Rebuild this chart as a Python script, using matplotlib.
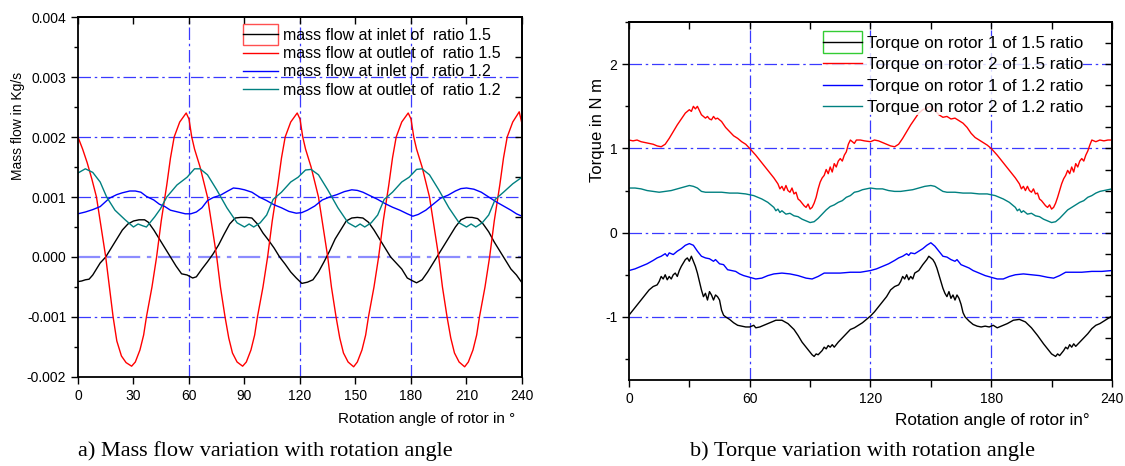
import matplotlib
matplotlib.use("Agg")
import numpy as np
import matplotlib.pyplot as plt
from matplotlib.ticker import MultipleLocator, FixedLocator, NullFormatter, FormatStrFormatter
from matplotlib.legend_handler import HandlerLine2D
from matplotlib.patches import Rectangle

plt.rcParams['font.family'] = ['Liberation Sans', 'DejaVu Sans']
plt.rcParams['axes.unicode_minus'] = False

# ---------------- a) mass flow (kg/s) vs rotation angle ----------------
ang_out15 = [0, 2.5, 5, 7.5, 10, 12.5, 15, 17, 19, 21, 23.5, 26, 29, 31, 33.5, 35.5, 37, 40, 42.5, 45, 48, 50, 52, 55, 58.5,
             60, 61.5, 63, 66, 68, 70, 72.5, 75, 77, 79.5, 81.5, 83.5, 86, 89, 91, 93.5, 95.5, 97, 100, 102.5, 105, 108, 110, 112, 115, 118.5,
             120, 121.5, 123, 126, 128, 130, 132.5, 135, 137, 139.5, 141.5, 143.5, 146, 149, 151, 153.5, 155.5, 157, 160, 162.5, 165, 168, 170, 172, 175, 178.5,
             180, 181.5, 183, 186, 188, 190, 192.5, 195, 197, 199.5, 201.5, 203.5, 206, 209, 211, 213.5, 215.5, 217, 220, 222.5, 225, 228, 230, 232, 235, 238.5, 240]
mf_out15 = [.00200, .00180, .00157, .00130, .00100, .00050, .00000, -.00050, -.00100, -.00140, -.00165, -.00176, -.00182, -.00175, -.00155, -.00130, -.00100, -.00050, .00000, .00060, .00120, .00165, .00200, .00225, .00240,
            .00230, .00200, .00180, .00150, .00125, .00100, .00050, .00000, -.00050, -.00100, -.00135, -.00160, -.00175, -.00182, -.00175, -.00155, -.00130, -.00100, -.00050, .00000, .00060, .00120, .00165, .00200, .00225, .00240,
            .00230, .00200, .00180, .00150, .00125, .00100, .00050, .00000, -.00050, -.00100, -.00135, -.00160, -.00175, -.00183, -.00175, -.00155, -.00130, -.00100, -.00050, .00000, .00060, .00120, .00165, .00200, .00225, .00240,
            .00230, .00200, .00180, .00150, .00125, .00100, .00050, .00000, -.00050, -.00100, -.00135, -.00160, -.00175, -.00183, -.00175, -.00155, -.00130, -.00100, -.00050, .00000, .00060, .00120, .00165, .00200, .00225, .00242, .00222]

ang_in15 = [0, 2, 4, 6, 8, 10, 12, 15, 18, 21, 24, 27, 30, 33, 36, 38, 41, 44, 47, 50, 53, 56, 59, 62, 64, 67, 70, 73, 76, 79,
            82, 85, 88, 91, 94, 97, 100, 103, 106, 109, 112, 115, 118, 121, 124, 127, 130, 133, 136, 139, 142, 145, 148, 151, 154, 157,
            160, 163, 166, 169, 172, 175, 178, 181, 183, 186, 189, 192, 195, 198, 201, 204, 207, 210, 213, 216, 219, 222, 225, 228, 231, 234, 237, 240]
mf_in15 = [-.00041, -.00040, -.00038, -.00037, -.00030, -.00020, -.00010, .00000, .00015, .00030, .00045, .00055, .00060, .00062, .00062, .00058, .00045, .00030, .00015, .00000,
           -.00015, -.00028, -.00030, -.00035, -.00033, -.00020, -.00008, .00005, .00020, .00038, .00055, .00065, .00066, .00066, .00065, .00055, .00040, .00028, .00015, .00000,
           -.00012, -.00025, -.00035, -.00044, -.00042, -.00038, -.00025, -.00008, .00010, .00030, .00045, .00060, .00065, .00066, .00065, .00058, .00045, .00030, .00015, .00000,
           -.00010, -.00020, -.00035, -.00040, -.00043, -.00038, -.00025, -.00010, .00005, .00020, .00035, .00050, .00062, .00066, .00066, .00064, .00055, .00042, .00025, .00010,
           -.00005, -.00020, -.00030, -.00043]

ang_in12 = [0, 4, 8, 12, 17, 21, 24, 28, 31, 34, 37, 41, 44, 47, 50, 54, 58, 61, 64, 67, 70, 73, 77, 81, 84, 87, 90, 94, 98,
            102, 106, 110, 114, 118, 121, 124, 128, 132, 136, 140, 144, 148, 151, 154, 158, 162, 166, 170, 174, 178, 181, 184,
            188, 192, 196, 200, 204, 207, 210, 214, 218, 222, 226, 230, 234, 237, 240]
mf_in12 = [.00072, .00075, .00079, .00084, .00098, .00104, .00107, .00110, .00110, .00108, .00101, .00095, .00088, .00084, .00078, .00075, .00072, .00072, .00075, .00082, .00094, .00099, .00103, .00110, .00115, .00114, .00112, .00108, .00100,
           .00094, .00087, .00082, .00076, .00073, .00074, .00078, .00085, .00095, .00100, .00104, .00109, .00112, .00111, .00108, .00102, .00096, .00089, .00083, .00078, .00072, .00068, .00071,
           .00078, .00088, .00098, .00103, .00110, .00114, .00115, .00113, .00108, .00100, .00092, .00085, .00078, .00072, .00068]

ang_out12 = [0, 4, 8, 12, 15.5, 20, 25.5, 30, 32.5, 35, 37, 41.5, 44.5, 48, 53.5, 59, 63, 66, 70, 75, 80.5, 86, 90, 92.5, 95, 98.5,
             102, 105.5, 110, 115, 119, 123, 126, 130, 135, 140.5, 146, 150, 152.5, 155, 158.5, 162, 165.5, 170, 175, 179, 183, 186,
             190, 195, 200.5, 206, 210, 212.5, 215, 218.5, 222, 225.5, 230, 235, 240]
mf_out12 = [.00140, .00147, .00141, .00125, .00100, .00078, .00062, .00050, .00055, .00052, .00050, .00067, .00080, .00100, .00120, .00133, .00147, .00147, .00137, .00112, .00082, .00057, .00050, .00055, .00050, .00057,
            .00070, .00096, .00108, .00125, .00133, .00145, .00146, .00137, .00112, .00082, .00057, .00050, .00055, .00050, .00057, .00070, .00096, .00108, .00125, .00133, .00146, .00147,
            .00137, .00112, .00082, .00057, .00050, .00055, .00050, .00057, .00070, .00096, .00108, .00122, .00133]

# ---------------- b) torque (N m) vs rotation angle ----------------
ang_t15_2 = [0, 2, 4, 6, 8, 10, 12, 14, 16, 18, 20, 22, 24, 26, 28, 30, 31, 32, 33, 34, 35, 36, 37, 38, 39, 40, 41, 42, 43, 44, 45, 46, 48, 50, 52, 54, 56, 58,
             60, 63, 66, 69, 72, 74, 75, 76, 77, 78, 79, 80, 81, 82, 83, 84, 85, 86, 87, 88, 89, 90, 91, 92, 93, 94, 95, 96, 97, 98, 99, 100, 101, 102, 103, 104, 105, 106, 107, 108, 109, 110, 111, 112, 113, 115, 117,
             120, 122, 124, 126, 128, 130, 132, 134, 136, 138, 140, 142, 144, 146, 148, 150, 152, 154, 156, 158, 160, 162, 164, 166, 168, 170, 172, 174, 176, 178,
             180, 183, 186, 189, 192, 194, 195, 196, 197, 198, 199, 200, 201, 202, 203, 204, 205, 206, 207, 208, 209, 210, 211, 212, 213, 214, 215, 216, 217, 218, 219, 220, 221, 222, 223, 224, 225, 226, 227, 228, 229, 230, 232, 234, 236, 238, 240]
tq_rotor2_15 = [1.10, 1.09, 1.10, 1.08, 1.07, 1.06, 1.05, 1.03, 1.02, 1.05, 1.12, 1.20, 1.28, 1.35, 1.42, 1.46, 1.44, 1.50, 1.47, 1.50, 1.45, 1.40, 1.38, 1.36, 1.38, 1.35, 1.34, 1.38, 1.35, 1.36, 1.34, 1.32, 1.25, 1.20, 1.15, 1.12, 1.08, 1.05,
                1.00, 0.92, 0.83, 0.74, 0.65, 0.58, 0.52, 0.55, 0.50, 0.56, 0.50, 0.48, 0.53, 0.46, 0.48, 0.40, 0.38, 0.35, 0.32, 0.30, 0.34, 0.28, 0.30, 0.35, 0.42, 0.52, 0.60, 0.65, 0.68, 0.75, 0.70, 0.78, 0.72, 0.82, 0.78, 0.85, 0.88, 0.85, 0.92, 0.96, 1.05, 1.10, 1.08, 1.06, 1.10, 1.10, 1.09,
                1.08, 1.10, 1.09, 1.07, 1.05, 1.03, 1.02, 1.05, 1.12, 1.20, 1.28, 1.35, 1.42, 1.46, 1.48, 1.50, 1.45, 1.40, 1.37, 1.38, 1.35, 1.36, 1.33, 1.30, 1.25, 1.18, 1.13, 1.10, 1.07, 1.04,
                1.00, 0.92, 0.83, 0.74, 0.65, 0.58, 0.52, 0.55, 0.50, 0.55, 0.50, 0.48, 0.52, 0.46, 0.47, 0.40, 0.38, 0.35, 0.32, 0.30, 0.33, 0.28, 0.30, 0.35, 0.42, 0.50, 0.58, 0.64, 0.68, 0.74, 0.70, 0.78, 0.72, 0.82, 0.78, 0.85, 0.88, 0.85, 0.92, 0.97, 1.04, 1.10, 1.08, 1.10, 1.09, 1.10, 1.10]

ang_t12_2 = [0, 3, 6, 9, 12, 15, 18, 21, 24, 27, 30, 32, 34, 36, 38, 42, 46, 50, 54, 58, 62, 66, 69, 72, 73, 74, 75, 76, 78, 80, 82, 84, 86, 88, 90, 92, 94, 96, 98, 100, 102, 104, 106, 108, 110, 112, 114, 116,
             120, 123, 126, 129, 132, 135, 138, 141, 144, 147, 150, 152, 154, 156, 158, 162, 166, 170, 174, 178, 182, 186, 189, 192, 193, 194, 195, 196, 198, 200, 202, 204, 206, 208, 210, 212, 214, 216, 218, 220, 222, 224, 226, 228, 230, 232, 234, 236, 240]
tq_rotor2_12 = [0.53, 0.53, 0.52, 0.50, 0.49, 0.48, 0.49, 0.50, 0.52, 0.54, 0.56, 0.55, 0.53, 0.49, 0.48, 0.48, 0.48, 0.47, 0.47, 0.46, 0.44, 0.40, 0.36, 0.30, 0.26, 0.28, 0.24, 0.26, 0.22, 0.23, 0.20, 0.19, 0.16, 0.14, 0.12, 0.13, 0.17, 0.22, 0.27, 0.31, 0.33, 0.36, 0.38, 0.42, 0.44, 0.48, 0.49, 0.51,
                0.53, 0.52, 0.52, 0.50, 0.49, 0.49, 0.50, 0.51, 0.53, 0.55, 0.56, 0.55, 0.52, 0.49, 0.48, 0.48, 0.47, 0.47, 0.46, 0.46, 0.44, 0.40, 0.36, 0.30, 0.26, 0.28, 0.24, 0.26, 0.22, 0.23, 0.20, 0.19, 0.16, 0.14, 0.12, 0.13, 0.17, 0.22, 0.27, 0.30, 0.33, 0.36, 0.38, 0.42, 0.44, 0.47, 0.49, 0.50, 0.52]

ang_t12_1 = [0, 3, 6, 9, 12, 14, 16, 18, 19, 20, 22, 24, 26, 28, 30, 31, 32, 34, 36, 38, 40, 42, 43, 45, 47, 49, 51, 53, 55, 57, 60, 63, 66, 69, 72, 76, 80, 84, 88, 91, 94, 97, 100, 105, 110, 115,
             120, 123, 126, 129, 132, 134, 136, 138, 139, 140, 142, 144, 146, 148, 150, 151, 152, 154, 156, 158, 160, 162, 163, 165, 167, 169, 171, 173, 175, 177, 180, 183, 186, 189, 192, 196, 200, 204, 208, 211, 214, 217, 220, 225, 230, 235, 240]
tq_rotor1_12 = [-0.45, -0.43, -0.40, -0.37, -0.33, -0.30, -0.28, -0.25, -0.28, -0.24, -0.26, -0.22, -0.19, -0.15, -0.13, -0.14, -0.15, -0.22, -0.28, -0.30, -0.31, -0.34, -0.32, -0.37, -0.38, -0.44, -0.45, -0.46, -0.49, -0.51, -0.53, -0.55, -0.54, -0.51, -0.49, -0.48, -0.49, -0.51, -0.54, -0.55, -0.52, -0.48, -0.48, -0.48, -0.47, -0.47,
                -0.45, -0.43, -0.40, -0.37, -0.33, -0.30, -0.28, -0.25, -0.27, -0.24, -0.25, -0.22, -0.19, -0.15, -0.12, -0.14, -0.16, -0.22, -0.28, -0.29, -0.32, -0.34, -0.32, -0.38, -0.40, -0.42, -0.45, -0.47, -0.49, -0.51, -0.53, -0.55, -0.55, -0.52, -0.50, -0.49, -0.50, -0.51, -0.53, -0.54, -0.51, -0.47, -0.47, -0.47, -0.46, -0.46, -0.45]

ang_t15_1 = [0, 2, 4, 6, 8, 10, 12, 14, 15, 16, 17, 18, 19, 20, 21, 22, 23, 24, 25, 26, 27, 28, 29, 30, 31, 32, 33, 34, 35, 36, 37, 38, 39, 40, 41, 42, 43, 44, 45, 46, 47, 48, 50, 52, 54, 56, 58,
             60, 62, 63, 65, 67, 70, 73, 76, 79, 82, 84, 86, 88, 90, 91, 92, 93, 94, 96, 97, 98, 99, 100, 101, 102, 103, 104, 106, 108, 110, 112, 114, 116, 118,
             120, 122, 124, 126, 128, 130, 132, 134, 135, 136, 137, 138, 139, 140, 141, 142, 144, 146, 148, 149, 150, 151, 152, 153, 154, 155, 156, 157, 158, 159, 160, 161, 162, 163, 164, 165, 166, 167, 169, 171, 173, 175, 177, 179,
             181, 183, 185, 188, 191, 194, 197, 200, 203, 206, 208, 210, 212, 213, 214, 216, 217, 218, 219, 220, 221, 222, 224, 226, 228, 230, 232, 234, 236, 238, 240]
tq_rotor1_15 = [-0.98, -0.92, -0.86, -0.80, -0.74, -0.68, -0.64, -0.62, -0.58, -0.52, -0.55, -0.50, -0.56, -0.52, -0.55, -0.50, -0.48, -0.52, -0.45, -0.40, -0.36, -0.32, -0.30, -0.34, -0.28, -0.34, -0.40, -0.48, -0.58, -0.68, -0.76, -0.72, -0.80, -0.70, -0.74, -0.80, -0.74, -0.76, -0.80, -0.92, -0.98, -1.00, -1.03, -1.07, -1.10, -1.11, -1.12,
                -1.12, -1.10, -1.13, -1.12, -1.10, -1.07, -1.04, -1.04, -1.08, -1.15, -1.22, -1.30, -1.36, -1.42, -1.45, -1.47, -1.44, -1.45, -1.40, -1.36, -1.38, -1.34, -1.36, -1.33, -1.36, -1.33, -1.30, -1.25, -1.20, -1.15, -1.13, -1.10, -1.07, -1.03,
                -0.99, -0.94, -0.88, -0.82, -0.76, -0.68, -0.64, -0.62, -0.58, -0.52, -0.55, -0.50, -0.56, -0.52, -0.55, -0.48, -0.45, -0.38, -0.32, -0.28, -0.30, -0.32, -0.36, -0.42, -0.50, -0.58, -0.66, -0.72, -0.76, -0.70, -0.78, -0.74, -0.80, -0.74, -0.78, -0.85, -0.95, -1.00, -1.05, -1.09, -1.11, -1.12, -1.11, -1.12,
                -1.10, -1.13, -1.11, -1.08, -1.04, -1.03, -1.06, -1.13, -1.22, -1.32, -1.38, -1.44, -1.47, -1.44, -1.46, -1.40, -1.36, -1.38, -1.33, -1.36, -1.32, -1.35, -1.30, -1.25, -1.20, -1.14, -1.10, -1.08, -1.05, -1.02, -0.99]

mf_labels = ['mass flow at inlet of  ratio 1.5', 'mass flow at outlet of  ratio 1.5',
             'mass flow at inlet of  ratio 1.2', 'mass flow at outlet of  ratio 1.2']
tq_labels = ['Torque on rotor 1 of 1.5 ratio', 'Torque on rotor 2 of 1.5 ratio',
             'Torque on rotor 1 of 1.2 ratio', 'Torque on rotor 2 of 1.2 ratio']

RED, BLUE, TEAL, GRID = '#ff0000', '#0000ff', '#008080', '#3a3aff'


class BoxedLine(HandlerLine2D):
    # Origin draws a coloured frame round the first legend sample
    def __init__(self, box_color, **kw):
        super().__init__(**kw)
        self.box_color = box_color

    def create_artists(self, legend, orig_handle, xdescent, ydescent, width, height, fontsize, trans):
        arts = super().create_artists(legend, orig_handle, xdescent, ydescent, width, height, fontsize, trans)
        box = Rectangle((-xdescent, -ydescent - 0.45 * height), width, 1.9 * height,
                        fill=False, edgecolor=self.box_color, lw=1.0, transform=trans)
        return [box] + list(arts)


def style_axes(ax, right_ticks):
    for s in ax.spines.values():
        s.set_linewidth(1.3)
    ax.tick_params(which='both', direction='out', width=1.0, labelsize=10, color='black')
    ax.tick_params(which='major', length=5)
    ax.tick_params(which='minor', length=3)
    top = ax.secondary_xaxis('top')
    top.tick_params(direction='in', length=5, width=1.0, labeltop=False)
    top.xaxis.set_major_locator(MultipleLocator(30))
    top.xaxis.set_major_formatter(NullFormatter())
    right = ax.secondary_yaxis('right')
    right.tick_params(direction='in', length=5, width=1.0, labelright=False)
    right.yaxis.set_major_locator(FixedLocator(right_ticks))
    right.yaxis.set_major_formatter(NullFormatter())
    for sec in (top, right):
        for s in sec.spines.values():
            s.set_linewidth(1.3)


def grid_lines(ax, hvals, zero_light=False):
    dash = (0, (10, 3, 2, 3))
    for v in (60, 120, 180):
        ax.axvline(v, color=GRID, lw=0.9, ls=dash, zorder=0)
    for h in hvals:
        if zero_light and h == 0:
            ax.axhline(h, color='#8c8cff', lw=1.6, ls=dash, zorder=0)
        else:
            ax.axhline(h, color=GRID, lw=0.9, ls=dash, zorder=0)


fig = plt.figure(figsize=(11.25, 4.66), dpi=100)

# ---- panel a ----
ax1 = fig.add_axes([0.0693, 0.191, 0.3947, 0.7725])
grid_lines(ax1, [0.003, 0.002, 0.001, 0.0, -0.001], zero_light=True)
l1, = ax1.plot(ang_in15, mf_in15, color='black', lw=1.0)
l2, = ax1.plot(ang_out15, mf_out15, color=RED, lw=1.0)
l3, = ax1.plot(ang_in12, mf_in12, color=BLUE, lw=1.0)
l4, = ax1.plot(ang_out12, mf_out12, color=TEAL, lw=1.0)
ax1.set_xlim(0, 240)
ax1.set_ylim(-0.002, 0.004)
ax1.xaxis.set_major_locator(MultipleLocator(30))
ax1.yaxis.set_major_locator(MultipleLocator(0.001))
ax1.yaxis.set_minor_locator(MultipleLocator(0.0005))
ax1.yaxis.set_major_formatter(FormatStrFormatter('%.3f'))
style_axes(ax1, list(np.linspace(-0.002, 0.004, 10)[1:-1]))
ax1.set_xlabel('Rotation angle of rotor in \u00b0', fontsize=11)
ax1.xaxis.set_label_coords(0.784, -0.097)
ax1.set_ylabel('Mass flow in Kg/s', fontsize=10)
ax1.yaxis.set_label_coords(-0.12, 0.697)
ax1.legend([l1, l2, l3, l4], mf_labels, loc='upper left',
           bbox_to_anchor=(243 / 1125, 1 - 28 / 466), bbox_transform=fig.transFigure,
           frameon=False, fontsize=11.5, handlelength=2.2, handletextpad=0.3,
           labelspacing=0.2, borderpad=0, borderaxespad=0,
           handler_map={l1: BoxedLine('#ff5050')})

# ---- panel b ----
ax2 = fig.add_axes([0.5591, 0.1845, 0.4293, 0.768])
grid_lines(ax2, [2, 1, 0, -1])
k1, = ax2.plot(ang_t15_1, tq_rotor1_15, color='black', lw=1.0)
k2, = ax2.plot(ang_t15_2, tq_rotor2_15, color=RED, lw=1.0)
k3, = ax2.plot(ang_t12_1, tq_rotor1_12, color=BLUE, lw=1.0)
k4, = ax2.plot(ang_t12_2, tq_rotor2_12, color=TEAL, lw=1.0)
ax2.set_xlim(0, 240)
ax2.set_ylim(-1.75, 2.5)
ax2.xaxis.set_major_locator(MultipleLocator(60))
ax2.xaxis.set_minor_locator(MultipleLocator(30))
ax2.yaxis.set_major_locator(MultipleLocator(1))
ax2.yaxis.set_minor_locator(MultipleLocator(0.5))
style_axes(ax2, list(np.arange(-1.5, 2.5, 0.25)))
ax2.tick_params(axis='x', which='minor', length=5)
ax2.set_xlabel('Rotation angle of rotor in\u00b0', fontsize=12.3)
ax2.xaxis.set_label_coords(0.752, -0.092)
ax2.set_ylabel('Torque in N m', fontsize=12)
ax2.yaxis.set_label_coords(-0.05, 0.698)
leg2 = ax2.legend([k1, k2, k3, k4], tq_labels, loc='upper left',
                  bbox_to_anchor=(823 / 1125, 1 - 36 / 466), bbox_transform=fig.transFigure,
                  frameon=True, fontsize=12.3, handlelength=2.3, handletextpad=0.25,
                  labelspacing=0.37, borderpad=0, borderaxespad=0,
                  handler_map={k1: BoxedLine('#33cc33')})
leg2.get_frame().set_linewidth(0)
leg2.get_frame().set_facecolor('white')

# captions under each panel
fig.text(265 / 1125, 1 - 451 / 466, 'a) Mass flow variation with rotation angle',
         family=['Liberation Serif', 'DejaVu Serif'], fontsize=16, ha='center', va='center')
fig.text(863 / 1125, 1 - 451 / 466, 'b) Torque variation with rotation angle',
         family=['Liberation Serif', 'DejaVu Serif'], fontsize=16, ha='center', va='center')

fig.savefig('out.png', dpi=100)
